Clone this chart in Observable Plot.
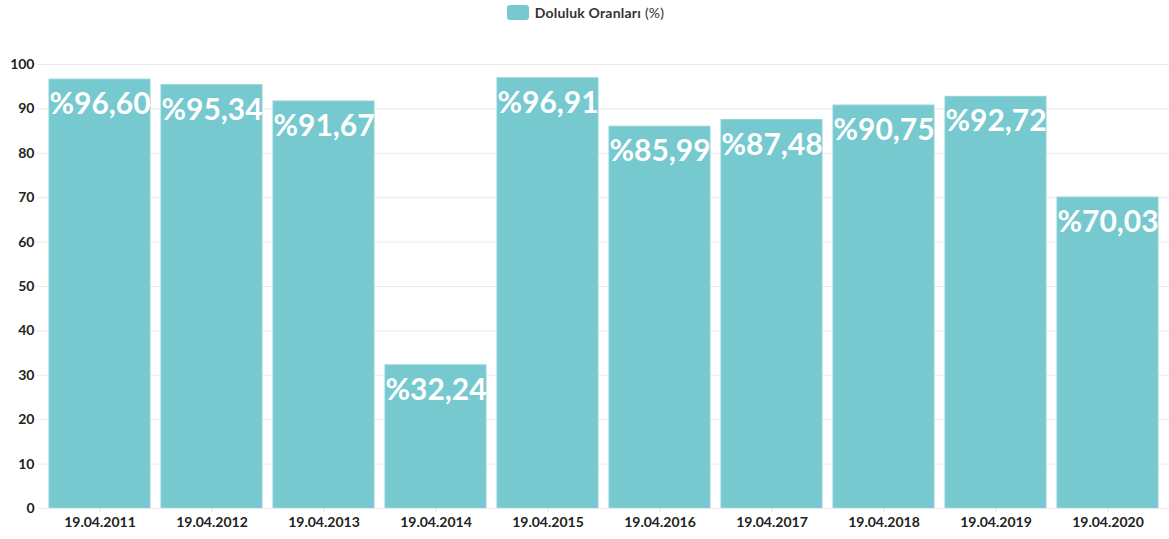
<!DOCTYPE html>
<html>
<head>
<meta charset="utf-8">
<script src="https://cdn.jsdelivr.net/npm/d3@7"></script>
<script src="https://cdn.jsdelivr.net/npm/@observablehq/plot@0.6"></script>
<style>
  body { margin: 0; background: #fff; font-family: Lato, "Noto Sans", sans-serif; }
  #legend { height: 25px; display: flex; align-items: center; justify-content: center; padding-left: 2px; box-sizing: border-box; font-size: 14px; color: #333; letter-spacing: 0.2px; }
  #legend .sw { width: 22px; height: 15px; background: #76c9cf; border-radius: 3px; margin-right: 6px; }
  #legend b { font-weight: 700; margin-right: 4px; }
</style>
</head>
<body>
<div id="legend"><span class="sw"></span><b>Doluluk Oranları</b><span>(%)</span></div>
<div id="chart"></div>
<script>
const dates = ["19.04.2011","19.04.2012","19.04.2013","19.04.2014","19.04.2015","19.04.2016","19.04.2017","19.04.2018","19.04.2019","19.04.2020"];
const values = [96.60, 95.34, 91.67, 32.24, 96.91, 85.99, 87.48, 90.75, 92.72, 70.03];
const labels = ["%96,60","%95,34","%91,67","%32,24","%96,91","%85,99","%87,48","%90,75","%92,72","%70,03"];
const yTicks = [0,10,20,30,40,50,60,70,80,90,100];

const data = dates.map((d, i) => ({date: d, value: values[i], label: labels[i]}));

const chart = Plot.plot({
  width: 1169,
  height: 514,
  marginTop: 39,
  marginBottom: 31,
  marginLeft: 37,
  marginRight: 0,
  style: {fontFamily: "Lato, 'Noto Sans', sans-serif", fontSize: "14px", color: "#222", background: "#fff"},
  x: {domain: dates, padding: 0.1, label: null, tickSize: 4},
  y: {domain: [0, 100], ticks: yTicks, label: null},
  marks: [
    Plot.gridY(yTicks, {stroke: "#ebebeb", strokeOpacity: 1}),
    Plot.barY(data, {x: "date", y: "value", fill: "#76c9cf", stroke: "#8fd3d8", strokeWidth: 1}),
    Plot.text(data, {x: "date", y: "value", text: "label", dy: 25, fill: "#fff", fontSize: 30, fontWeight: 700, fontFamily: "Lato, 'Noto Sans', sans-serif"}),
    Plot.axisX({tickSize: 4, stroke: "#ddd", tickPadding: 5, fontWeight: 700, fill: "#222", fontSize: 14, style: "letter-spacing:0.6px"}),
    Plot.axisY(yTicks, {tickSize: 0, tickPadding: 3, fontWeight: 700, fill: "#222", fontSize: 14, style: "letter-spacing:0.4px"}),
    Plot.ruleY([0], {stroke: "#ebebeb"})
  ]
});
document.getElementById("chart").appendChild(chart);
</script>
</body>
</html>
